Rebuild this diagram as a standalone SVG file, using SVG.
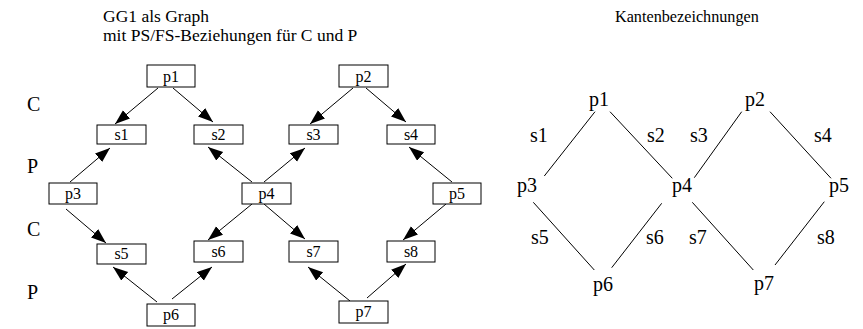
<svg xmlns="http://www.w3.org/2000/svg" width="863" height="329" viewBox="0 0 863 329">
<style>
text{font-family:"Liberation Serif","Times New Roman",serif;fill:#000}
.t{font-size:17.5px}
.k{font-size:16.2px}
.lab{font-size:20px}
.bt{font-size:16px;text-anchor:middle}
.rt{font-size:20px}
rect{fill:#fff;stroke:#000;stroke-width:1}
.a{stroke:#000;stroke-width:1;fill:none;marker-end:url(#ah)}
.e{stroke:#000;stroke-width:1;fill:none}
</style>
<defs>
<marker id="ah" markerUnits="userSpaceOnUse" markerWidth="16" markerHeight="12" refX="15" refY="5.5" orient="auto">
<path d="M0,0 L15,5.5 L0,11 z" fill="#000"/>
</marker>
</defs>
<text class="t" x="103" y="22">GG1 als Graph</text>
<text class="t" x="103" y="41">mit PS/FS-Beziehungen für C und P</text>
<text class="k" x="615" y="22">Kantenbezeichnungen</text>
<text class="lab" x="27" y="111">C</text>
<text class="lab" x="27" y="173">P</text>
<text class="lab" x="27" y="236">C</text>
<text class="lab" x="27" y="299">P</text>
<g id="connectors">
<line class="a" x1="158" y1="88" x2="115" y2="124"/>
<line class="a" x1="173" y1="88" x2="213" y2="122"/>
<line class="a" x1="353" y1="88" x2="310" y2="124"/>
<line class="a" x1="366" y1="88" x2="406" y2="122"/>
<line class="a" x1="70" y1="182" x2="110" y2="148"/>
<line class="a" x1="252" y1="182" x2="208" y2="147"/>
<line class="a" x1="264" y1="182" x2="305" y2="148"/>
<line class="a" x1="452" y1="182" x2="409" y2="147"/>
<line class="a" x1="66" y1="209" x2="106" y2="243"/>
<line class="a" x1="252" y1="204" x2="208" y2="240"/>
<line class="a" x1="264" y1="204" x2="305" y2="239"/>
<line class="a" x1="446" y1="204" x2="403" y2="240"/>
<line class="a" x1="157" y1="302" x2="113" y2="267"/>
<line class="a" x1="172" y1="299" x2="212" y2="267"/>
<line class="a" x1="350" y1="301" x2="308" y2="267"/>
<line class="a" x1="367" y1="298" x2="406" y2="264"/>
</g>
<g id="p1"><rect x="147" y="65" width="48" height="22"/><text class="bt" x="171" y="82">p1</text></g>
<g id="p2"><rect x="339" y="65" width="49" height="22"/><text class="bt" x="363.5" y="82">p2</text></g>
<g id="s1"><rect x="97" y="125" width="49" height="19"/><text class="bt" x="121.5" y="140">s1</text></g>
<g id="s2"><rect x="194" y="125" width="49" height="19"/><text class="bt" x="218.5" y="140">s2</text></g>
<g id="s3"><rect x="289" y="125" width="49" height="19"/><text class="bt" x="313.5" y="140">s3</text></g>
<g id="s4"><rect x="387" y="125" width="48" height="19"/><text class="bt" x="411" y="140">s4</text></g>
<g id="p3"><rect x="49" y="183" width="48" height="21"/><text class="bt" x="73" y="199">p3</text></g>
<g id="p4"><rect x="242" y="183" width="49" height="21"/><text class="bt" x="266.5" y="199">p4</text></g>
<g id="p5"><rect x="433" y="183" width="48" height="21"/><text class="bt" x="457" y="199">p5</text></g>
<g id="s5"><rect x="97" y="244" width="49" height="20"/><text class="bt" x="121.5" y="259">s5</text></g>
<g id="s6"><rect x="194" y="241" width="49" height="21"/><text class="bt" x="218.5" y="257">s6</text></g>
<g id="s7"><rect x="289" y="241" width="49" height="21"/><text class="bt" x="313.5" y="257">s7</text></g>
<g id="s8"><rect x="387" y="241" width="48" height="21"/><text class="bt" x="411" y="257">s8</text></g>
<g id="p6"><rect x="147" y="304" width="48" height="22"/><text class="bt" x="171" y="320">p6</text></g>
<g id="p7"><rect x="339" y="301" width="49" height="22"/><text class="bt" x="363.5" y="317">p7</text></g>
<g id="edges">
<line class="e" x1="595" y1="111.7" x2="544.3" y2="176"/>
<line class="e" x1="610" y1="111.7" x2="672.3" y2="178.3"/>
<line class="e" x1="741.7" y1="111.7" x2="694.3" y2="177.7"/>
<line class="e" x1="770" y1="111.7" x2="831" y2="178.3"/>
<line class="e" x1="533.3" y1="202.3" x2="594.3" y2="270"/>
<line class="e" x1="661.7" y1="203.3" x2="611.7" y2="267.7"/>
<line class="e" x1="692.3" y1="202.3" x2="753.3" y2="270"/>
<line class="e" x1="824.3" y1="201.7" x2="775" y2="265"/>
</g>
<g id="r-p1"><text class="rt" x="589" y="106">p1</text></g>
<g id="r-p2"><text class="rt" x="745" y="106">p2</text></g>
<g id="r-p3"><text class="rt" x="517" y="192">p3</text></g>
<g id="r-p4"><text class="rt" x="672" y="192">p4</text></g>
<g id="r-p5"><text class="rt" x="829" y="192">p5</text></g>
<g id="r-p6"><text class="rt" x="593" y="291">p6</text></g>
<g id="r-p7"><text class="rt" x="754" y="290">p7</text></g>
<g id="r-labels">
<text class="rt" x="530" y="142">s1</text>
<text class="rt" x="647" y="142">s2</text>
<text class="rt" x="690" y="142">s3</text>
<text class="rt" x="814" y="142">s4</text>
<text class="rt" x="531" y="244">s5</text>
<text class="rt" x="646" y="244">s6</text>
<text class="rt" x="689" y="244">s7</text>
<text class="rt" x="817" y="244">s8</text>
</g>
</svg>
